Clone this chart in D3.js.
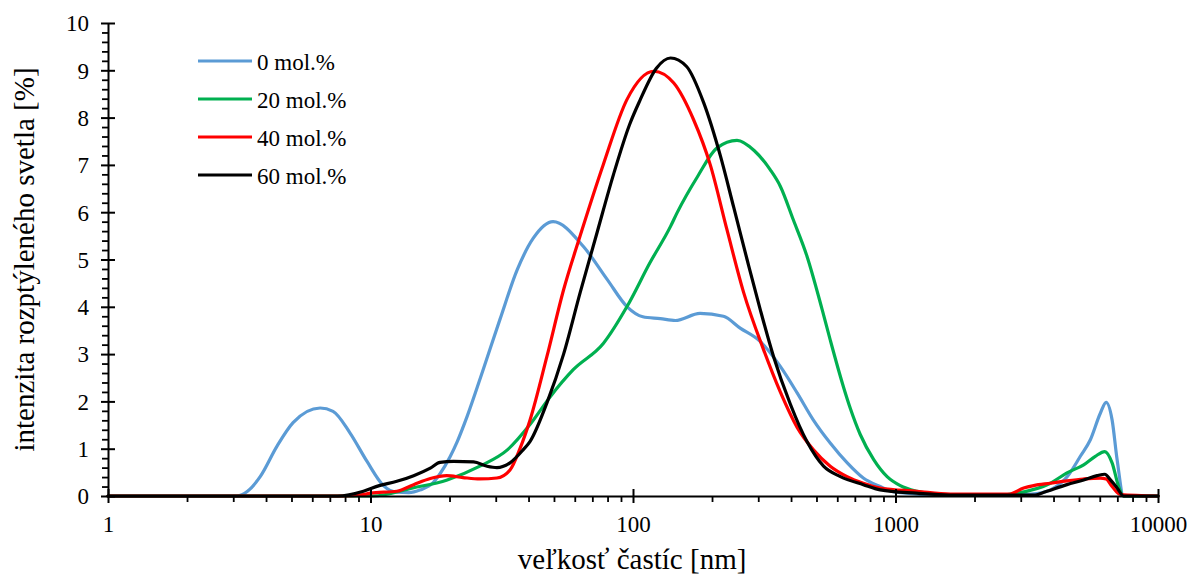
<!DOCTYPE html>
<html>
<head>
<meta charset="utf-8">
<script src="https://cdn.jsdelivr.net/npm/d3@7"></script>
<style>
  html, body { margin: 0; padding: 0; background: #fff; }
  svg text { font-family: "Liberation Serif", "Times New Roman", serif; fill: #000; }
</style>
</head>
<body>
<svg id="chart" width="1190" height="577"></svg>
<script>
// Particle size (nm) and scattered light intensity (%) for each composition
const size0  = [1, 3.1, 3.4, 3.8, 4.4, 5.07, 6.43, 7.2, 8.36, 9.7, 11.2, 12.6, 14, 15.5, 17.3, 18.4, 20.1, 21.4, 23.4, 26.9, 31.2, 36.2, 41.7, 49.6, 64.6, 79.7, 95, 109, 127, 145, 180, 221, 256, 305, 364, 422, 486, 564, 655, 754, 875, 1000, 1500, 2500, 3300, 3890, 4515, 5060, 5525, 6030, 6345, 6685, 6985, 7400, 10000];
const int0   = [0, 0, 0.1, 0.41, 1.05, 1.55, 1.86, 1.79, 1.33, 0.73, 0.22, 0.08, 0.07, 0.13, 0.28, 0.47, 0.83, 1.15, 1.7, 2.68, 3.75, 4.78, 5.45, 5.8, 5.28, 4.58, 4.0, 3.79, 3.75, 3.71, 3.86, 3.8, 3.55, 3.27, 2.74, 2.18, 1.61, 1.12, 0.7, 0.38, 0.2, 0.08, 0.02, 0.02, 0.04, 0.13, 0.41, 0.84, 1.19, 1.75, 1.98, 1.61, 0.77, 0, 0];

const size20 = [1, 10.2, 14.5, 19.6, 26.1, 33.3, 40.5, 48.4, 59.2, 77.2, 95, 116, 139, 147, 176, 209, 249, 290, 333, 364, 408, 460, 525, 564, 634, 673, 734, 826, 929, 1043, 1208, 1500, 2500, 2904, 3890, 4500, 5210, 5770, 6270, 6685, 7080, 7400, 10000];
const int20  = [0, 0, 0.17, 0.34, 0.63, 0.98, 1.51, 2.1, 2.67, 3.23, 4.01, 4.93, 5.7, 5.98, 6.75, 7.36, 7.52, 7.3, 6.9, 6.55, 5.84, 5.07, 3.95, 3.3, 2.3, 1.85, 1.3, 0.77, 0.41, 0.22, 0.1, 0.03, 0.02, 0.06, 0.27, 0.49, 0.66, 0.84, 0.94, 0.7, 0.2, 0, 0];

const size40 = [1, 7.9, 9.4, 10, 12.6, 14.6, 16.9, 19.5, 22.5, 26.1, 30.3, 34.0, 37.1, 40.5, 47, 54.4, 62.9, 77.2, 94.8, 120, 143, 170, 197, 228, 264, 314, 364, 422, 486, 564, 654, 754, 875, 1208, 1618, 2700, 3078, 3360, 3890, 4500, 5210, 6030, 6345, 6685, 7190, 10000];
const int40  = [0, 0, 0.03, 0.06, 0.1, 0.24, 0.37, 0.43, 0.39, 0.36, 0.38, 0.55, 1.0, 1.6, 2.95, 4.36, 5.5, 7.02, 8.38, 8.98, 8.73, 7.96, 7.0, 5.63, 4.3, 3.1, 2.2, 1.45, 0.98, 0.63, 0.41, 0.27, 0.17, 0.1, 0.04, 0.04, 0.17, 0.22, 0.27, 0.32, 0.36, 0.38, 0.36, 0.2, 0.03, 0];

const size60 = [1, 7.5, 9.4, 10.8, 12.6, 14.6, 16.9, 18.4, 20.7, 24.7, 27.8, 30.3, 34.0, 38.2, 40.5, 47, 54.4, 62.9, 72.8, 84.3, 97, 106, 123, 139, 160, 186, 215, 242, 272, 305, 343, 397, 460, 532, 617, 754, 875, 1200, 1600, 3400, 3600, 4500, 5210, 5860, 6270, 6590, 6985, 7400, 10000];
const int60  = [0, 0, 0.1, 0.22, 0.31, 0.43, 0.59, 0.71, 0.73, 0.72, 0.63, 0.6, 0.7, 0.98, 1.15, 1.97, 3.0, 4.3, 5.55, 6.8, 7.85, 8.35, 9.05, 9.26, 9.08, 8.31, 7.2, 6.1, 5.0, 3.95, 2.95, 1.95, 1.15, 0.63, 0.41, 0.24, 0.13, 0.06, 0.02, 0.02, 0.06, 0.24, 0.34, 0.43, 0.46, 0.34, 0.17, 0, 0];

const seriesNames = ["0 mol.%", "20 mol.%", "40 mol.%", "60 mol.%"];
const seriesColors = ["#5B9BD5", "#00B050", "#FF0000", "#000000"];

const xMajorTicks = [1, 10, 100, 1000, 10000];
const yMajorTicks = [0, 1, 2, 3, 4, 5, 6, 7, 8, 9, 10];

const xTitle = "veľkosť častíc [nm]";
const yTitle = "intenzita rozptýleného svetla [%]";

// ---- layout ----
const svg = d3.select("#chart");
const plotLeft = 108, plotRight = 1158, plotTop = 23, plotBottom = 496;

const x = d3.scaleLog().domain([1, 10000]).range([plotLeft, plotRight]);
const y = d3.scaleLinear().domain([0, 10]).range([plotBottom, plotTop]);

const xMinorTicks = [];
[1, 10, 100, 1000].forEach(dec => { for (let k = 2; k <= 9; k++) xMinorTicks.push(dec * k); });
const yMinorTicks = d3.range(0, 10.001, 0.2).filter(v => Math.abs(v - Math.round(v)) > 1e-6);

// ---- series lines ----
const series = [
  { sizes: size0,  vals: int0 },
  { sizes: size20, vals: int20 },
  { sizes: size40, vals: int40 },
  { sizes: size60, vals: int60 }
];

const line = d3.line()
  .x(d => x(d[0]))
  .y(d => y(d[1]))
  .curve(d3.curveMonotoneX);

const lines = svg.append("g");
series.forEach((s, i) => {
  const pts = s.sizes.map((d, j) => [d, s.vals[j]]);
  lines.append("path")
    .datum(pts)
    .attr("d", line)
    .attr("fill", "none")
    .attr("stroke", seriesColors[i])
    .attr("stroke-width", 3.2)
    .attr("stroke-linejoin", "round")
    .attr("stroke-linecap", "round");
});

// ---- y axis ----
const yMinor = svg.append("g").attr("transform", `translate(${plotLeft},0)`)
  .call(d3.axisLeft(y).tickValues(yMinorTicks).tickSize(6).tickFormat(""));
yMinor.select(".domain").remove();
yMinor.selectAll("line").attr("stroke", "#000").attr("stroke-width", 1.8);

const yAxis = svg.append("g").attr("transform", `translate(${plotLeft},0)`)
  .call(d3.axisLeft(y).tickValues(yMajorTicks).tickSizeOuter(0).tickFormat(d3.format("d")));
yAxis.select(".domain").attr("stroke", "#000").attr("stroke-width", 2);
yAxis.selectAll(".tick line").attr("x1", 7).attr("x2", -7).attr("stroke", "#000").attr("stroke-width", 2);
yAxis.selectAll(".tick text")
  .attr("x", -19).attr("dy", "0.34em")
  .style("font-family", "'Liberation Serif', serif").style("font-size", "23px").attr("fill", "#000");

// ---- x axis ----
const xMinor = svg.append("g").attr("transform", `translate(0,${plotBottom})`)
  .call(d3.axisBottom(x).tickValues(xMinorTicks).tickSize(6).tickFormat(""));
xMinor.select(".domain").remove();
xMinor.selectAll("line").attr("stroke", "#000").attr("stroke-width", 1.8);

const xAxis = svg.append("g").attr("transform", `translate(0,${plotBottom})`)
  .call(d3.axisBottom(x).tickValues(xMajorTicks).tickSizeOuter(0).tickFormat(d3.format("d")));
xAxis.select(".domain").attr("stroke", "#000").attr("stroke-width", 2);
xAxis.selectAll(".tick line").attr("y1", -7).attr("y2", 7).attr("stroke", "#000").attr("stroke-width", 2);
xAxis.selectAll(".tick text")
  .attr("y", 36).attr("dy", 0)
  .style("font-family", "'Liberation Serif', serif").style("font-size", "23px").attr("fill", "#000");

// ---- axis titles ----
svg.append("text")
  .attr("x", 632).attr("y", 569)
  .attr("text-anchor", "middle")
  .style("font-size", "29px")
  .text(xTitle);

svg.append("text")
  .attr("transform", `translate(34,${(plotTop + plotBottom) / 2}) rotate(-90)`)
  .attr("text-anchor", "middle")
  .style("font-size", "29px")
  .text(yTitle);

// ---- legend ----
const legend = svg.append("g");
seriesNames.forEach((name, i) => {
  const ly = 61 + i * 38;
  legend.append("line")
    .attr("x1", 198).attr("x2", 252).attr("y1", ly).attr("y2", ly)
    .attr("stroke", seriesColors[i]).attr("stroke-width", 3.2);
  legend.append("text")
    .attr("x", 257).attr("y", ly + 9)
    .style("font-size", "23px")
    .text(name);
});
</script>
</body>
</html>
